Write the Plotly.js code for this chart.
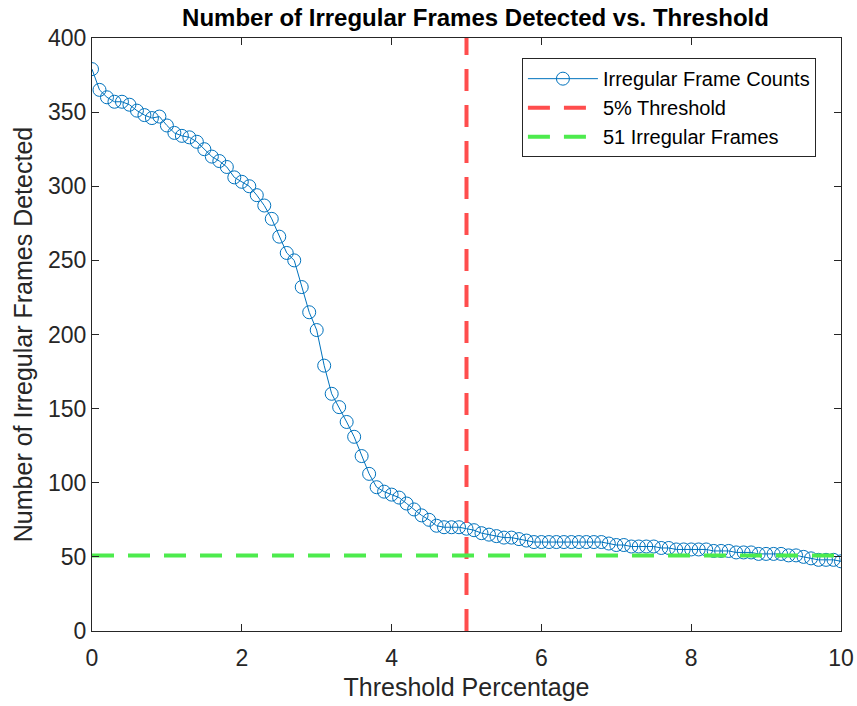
<!DOCTYPE html>
<html>
<head>
<meta charset="utf-8">
<script src="https://cdn.plot.ly/plotly-3.0.1.min.js"></script>
<style>html,body{margin:0;padding:0;background:#fff;}#chart{width:857px;height:706px;}</style>
</head>
<body>
<div id="chart"></div>
<script>
const thresholds = [0.0,0.1,0.2,0.3,0.4,0.5,0.6,0.7,0.8,0.9,1.0,1.1,1.2,1.3,1.4,1.5,1.6,1.7,1.8,1.9,2.0,2.1,2.2,2.3,2.4,2.5,2.6,2.7,2.8,2.9,3.0,3.1,3.2,3.3,3.4,3.5,3.6,3.7,3.8,3.9,4.0,4.1,4.2,4.3,4.4,4.5,4.6,4.7,4.8,4.9,5.0,5.1,5.2,5.3,5.4,5.5,5.6,5.7,5.8,5.9,6.0,6.1,6.2,6.3,6.4,6.5,6.6,6.7,6.8,6.9,7.0,7.1,7.2,7.3,7.4,7.5,7.6,7.7,7.8,7.9,8.0,8.1,8.2,8.3,8.4,8.5,8.6,8.7,8.8,8.9,9.0,9.1,9.2,9.3,9.4,9.5,9.6,9.7,9.8,9.9,10.0];
const frameCounts = [379,365,360,357,357,355,351,348,346,347,341,336,334,333,330,325,320,317,313,306,303,300,294,287,278,266,255,250,232,215,203,179,160,151,141,131,118,106,97,94,92,90,86,82,78,75,71,70,70,70,69,68,66,65,64,63,63,62,61,60,60,60,60,60,60,60,60,60,60,59,58,58,57,57,57,57,56,56,55,55,55,55,55,54,54,54,53,53,53,52,52,52,52,51,51,50,49,48,48,48,47];
const thresholdLineX = [5, 5];
const thresholdLineY = [0, 400];
const targetLineX = [0, 10];
const targetLineY = [51, 51];
const xTicks = [0, 2, 4, 6, 8, 10];
const yTicks = [0, 50, 100, 150, 200, 250, 300, 350, 400];

const traces = [
  {x: thresholds, y: frameCounts, type: 'scatter', mode: 'lines+markers', name: 'Irregular Frame Counts',
   line: {color: '#0072BD', width: 1}, marker: {symbol: 'circle-open', size: 13, color: '#0072BD', line: {width: 1}}},
  {x: thresholdLineX, y: thresholdLineY, type: 'scatter', mode: 'lines', name: '5% Threshold',
   line: {color: '#FF4D4D', width: 4, dash: '22px,14px'}},
  {x: targetLineX, y: targetLineY, type: 'scatter', mode: 'lines', name: '51 Irregular Frames',
   line: {color: '#4DEB4D', width: 4, dash: '22px,14px'}}
];

const axisCommon = {showgrid: false, zeroline: false, showline: true, mirror: 'ticks', ticks: 'inside', ticklen: 7,
  automargin: false, linecolor: '#262626', tickcolor: '#262626', linewidth: 1, tickfont: {size: 23, color: '#262626'}};

const layout = {
  width: 857, height: 706,
  margin: {l: 92, r: 16, t: 38, b: 75},
  paper_bgcolor: '#fff', plot_bgcolor: '#fff',
  font: {family: 'Liberation Sans, Arial, sans-serif', color: '#262626'},
  title: {text: '<b>Number of Irregular Frames Detected vs. Threshold</b>', xref: 'paper', x: 0.512, xanchor: 'center', yref: 'container', y: 0.975, yanchor: 'middle', font: {size: 24, color: '#000'}},
  xaxis: Object.assign({}, axisCommon, {range: [0, 10], tickvals: xTicks, ticktext: xTicks.map(String), ticklabelstandoff: 6,
    title: {text: 'Threshold Percentage', font: {size: 25, color: '#262626'}, standoff: 8}}),
  yaxis: Object.assign({}, axisCommon, {range: [0, 400], tickvals: yTicks, ticktext: yTicks.map(String),
    title: {text: 'Number of Irregular Frames Detected', font: {size: 25, color: '#262626'}, standoff: 8}}),
  showlegend: true,
  legend: {x: 0.574, y: 0.966, xanchor: 'left', yanchor: 'top', bgcolor: '#fff', bordercolor: '#262626', borderwidth: 1,
    font: {size: 20, color: '#000'}, itemwidth: 70, tracegroupgap: 0}
};

Plotly.newPlot('chart', traces, layout, {displayModeBar: false, staticPlot: true});
</script>
</body>
</html>
